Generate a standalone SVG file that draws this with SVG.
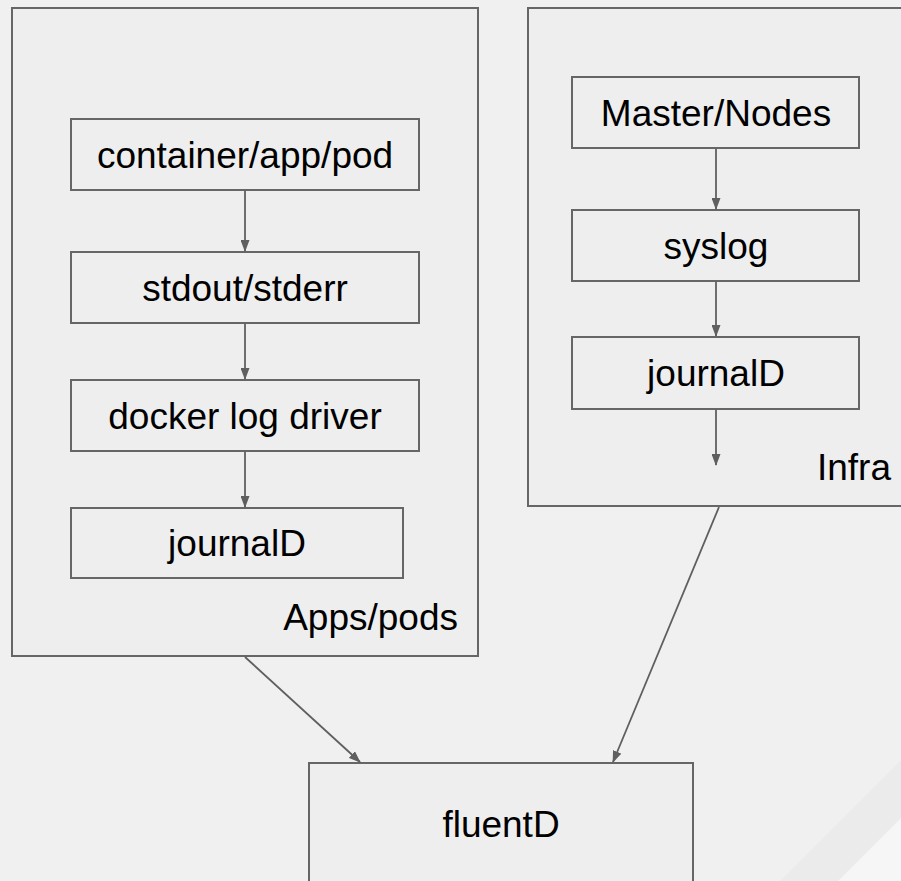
<svg xmlns="http://www.w3.org/2000/svg" width="901" height="881" viewBox="0 0 901 881">
<style>
.box{fill:#eeeeee;stroke:#666666;stroke-width:2}
.lbl{font-family:"Liberation Sans",Arial,sans-serif;font-size:37px;fill:#000000}
.mid{text-anchor:middle}
.end{text-anchor:end}
.con{stroke:#5f5f5f;stroke-width:1.8;fill:none;marker-end:url(#ah)}
</style>
<defs>
<marker id="ah" viewBox="0 0 12 9" refX="11" refY="4.5" markerWidth="12" markerHeight="9" markerUnits="userSpaceOnUse" orient="auto">
<path d="M0,0 L12,4.5 L0,9 z" fill="#5f5f5f"/>
</marker>
</defs>
<rect x="0" y="0" width="901" height="881" fill="#f0f0f0"/>
<polygon points="901,760 901,881 780,881" fill="#ebebeb"/>
<polygon points="901,818 901,881 838,881" fill="#f6f6f6"/>
<g id="apps">
<rect class="box" x="12" y="8" width="466" height="648"/>
<text class="lbl end" x="458" y="630">Apps/pods</text>
</g>
<g id="infra">
<rect class="box" x="528" y="8" width="390" height="498"/>
<text class="lbl end" x="891" y="480">Infra</text>
</g>
<g id="container">
<rect class="box" x="71" y="119" width="348" height="71"/>
<text class="lbl mid" x="245" y="168">container/app/pod</text>
</g>
<g id="stdout">
<rect class="box" x="71" y="252" width="348" height="71"/>
<text class="lbl mid" x="245" y="301">stdout/stderr</text>
</g>
<g id="docker">
<rect class="box" x="71" y="380" width="348" height="71"/>
<text class="lbl mid" x="245" y="429">docker log driver</text>
</g>
<g id="journald-apps">
<rect class="box" x="71" y="508" width="332" height="70"/>
<text class="lbl mid" x="237" y="556">journalD</text>
</g>
<g id="master">
<rect class="box" x="572" y="77" width="287" height="71"/>
<text class="lbl mid" x="716" y="126">Master/Nodes</text>
</g>
<g id="syslog">
<rect class="box" x="572" y="210" width="287" height="71"/>
<text class="lbl mid" x="716" y="259">syslog</text>
</g>
<g id="journald-infra">
<rect class="box" x="572" y="337" width="287" height="72"/>
<text class="lbl mid" x="716" y="386">journalD</text>
</g>
<g id="fluentd">
<rect class="box" x="309" y="763" width="384" height="140"/>
<text class="lbl mid" x="501" y="837">fluentD</text>
</g>
<g id="connectors">
<line class="con" x1="245" y1="191" x2="245" y2="251"/>
<line class="con" x1="245" y1="324" x2="245" y2="379"/>
<line class="con" x1="245" y1="452" x2="245" y2="507"/>
<line class="con" x1="716" y1="149" x2="716" y2="209"/>
<line class="con" x1="716" y1="282" x2="716" y2="336"/>
<line class="con" x1="716" y1="410" x2="716" y2="465"/>
<line class="con" x1="245" y1="657" x2="360" y2="762"/>
<line class="con" x1="719" y1="507" x2="613" y2="762"/>
</g>
</svg>
